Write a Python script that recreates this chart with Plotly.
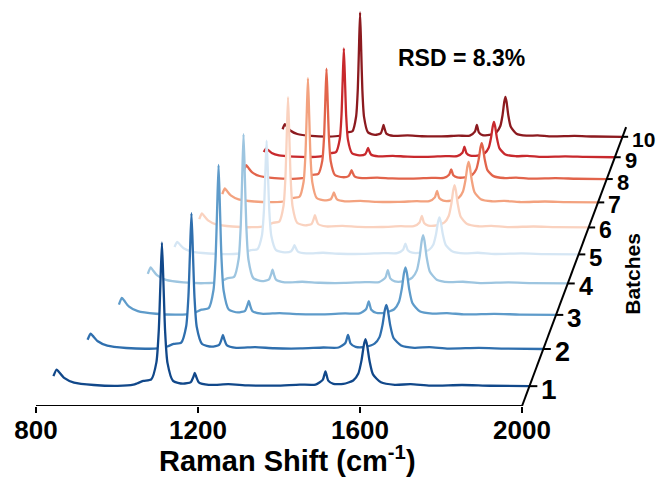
import plotly.graph_objects as go

# Raman shift sampling points (cm-1), shared by every batch
raman_shift = [798, 806, 812, 825, 850, 900, 960, 1000, 1010, 1025,
               1045, 1058, 1064, 1068, 1072, 1076, 1080, 1086, 1100, 1125,
               1145, 1151, 1155, 1159, 1165, 1190, 1240, 1290, 1360, 1420,
               1460, 1478, 1485, 1492, 1505, 1530, 1555, 1568, 1576, 1582,
               1586, 1590, 1596, 1605, 1625, 1660, 1700, 1750, 1830, 1900,
               2000]

# SERS intensity (a.u.) of each batch at the points above
batch_1 = [10.2, 17.0, 14.5, 8.5, 3.7, 1.2, 0.3, 1.5, 3.0, 5.4,
           6.9, 24.3, 56.9, 102.9, 147.0, 102.9, 56.4, 23.8, 5.4, 2.5,
           4.2, 9.1, 13.5, 9.1, 3.9, 1.3, 2.0, 0.8, 0.6, 1.6,
           1.6, 6.4, 15.0, 5.7, 2.3, 2.3, 5.8, 13.0, 26.4, 42.2,
           48.0, 42.2, 26.4, 12.0, 3.9, 1.4, 2.0, 0.5, 1.2, 0.4, 0.0]
batch_2 = [9.9, 16.5, 14.0, 8.3, 3.6, 1.1, 0.3, 1.5, 3.0, 5.4,
           6.8, 24.0, 56.1, 101.5, 145.0, 101.5, 55.6, 23.5, 5.4, 2.5,
           4.5, 10.0, 15.0, 10.0, 4.2, 1.3, 2.0, 0.8, 0.6, 1.6,
           1.6, 6.4, 15.0, 5.7, 2.2, 2.2, 5.7, 12.7, 25.9, 41.4,
           47.0, 41.4, 25.9, 11.8, 3.8, 1.3, 2.0, 0.5, 1.2, 0.4, 0.0]
batch_3 = [11.4, 19.0, 16.2, 9.5, 4.2, 1.3, 0.3, 1.5, 3.0, 5.8,
           7.5, 27.4, 64.5, 116.9, 167.0, 116.9, 64.0, 26.9, 6.0, 2.7,
           4.6, 10.3, 15.5, 10.3, 4.3, 1.3, 2.0, 0.8, 0.6, 1.6,
           1.6, 6.5, 15.0, 5.7, 2.4, 2.5, 6.3, 14.3, 29.2, 46.6,
           53.0, 46.6, 29.2, 13.3, 4.2, 1.5, 2.0, 0.5, 1.2, 0.4, 0.0]
batch_4 = [11.1, 18.5, 15.7, 9.3, 4.1, 1.2, 0.3, 1.5, 3.0, 6.0,
           7.7, 28.3, 66.7, 121.1, 173.0, 121.1, 66.2, 27.8, 6.2, 2.7,
           4.7, 10.6, 16.0, 10.6, 4.4, 1.3, 2.0, 0.8, 0.6, 1.6,
           1.6, 6.7, 15.5, 5.9, 2.4, 2.6, 6.7, 15.1, 30.8, 49.3,
           56.0, 49.3, 30.8, 14.0, 4.4, 1.5, 2.0, 0.5, 1.2, 0.4, 0.0]
batch_5 = [9.0, 15.0, 12.8, 7.5, 3.3, 1.1, 0.3, 1.5, 3.0, 5.2,
           6.5, 22.7, 53.1, 95.9, 137.0, 95.9, 52.6, 22.2, 5.1, 2.4,
           3.7, 7.6, 11.0, 7.6, 3.4, 1.2, 2.0, 0.8, 0.6, 1.6,
           1.5, 5.7, 13.0, 5.0, 2.1, 2.1, 5.4, 12.0, 24.5, 39.2,
           44.5, 39.2, 24.5, 11.1, 3.6, 1.3, 2.0, 0.5, 1.2, 0.4, 0.0]
batch_6 = [10.5, 17.5, 14.9, 8.8, 3.9, 1.2, 0.3, 1.5, 3.0, 5.8,
           7.4, 26.8, 62.9, 114.1, 163.0, 114.1, 62.4, 26.3, 5.9, 2.6,
           4.6, 10.3, 15.5, 10.3, 4.3, 1.3, 2.0, 0.8, 0.6, 1.6,
           1.6, 6.3, 14.5, 5.5, 2.4, 2.5, 6.3, 14.3, 29.2, 46.6,
           53.0, 46.6, 29.2, 13.3, 4.2, 1.5, 2.0, 0.5, 1.2, 0.4, 0.0]
batch_7 = [10.8, 18.0, 15.3, 9.0, 4.0, 1.2, 0.3, 1.5, 3.0, 5.7,
           7.3, 26.5, 62.2, 112.7, 161.0, 112.7, 61.7, 26.0, 5.8, 2.6,
           4.1, 8.8, 13.0, 8.8, 3.8, 1.3, 2.0, 0.8, 0.6, 1.6,
           1.6, 6.5, 15.0, 5.7, 2.3, 2.4, 6.3, 14.2, 28.9, 46.2,
           52.5, 46.2, 28.9, 13.1, 4.2, 1.5, 2.0, 0.5, 1.2, 0.4, 0.0]
batch_8 = [11.1, 18.5, 15.7, 9.3, 4.1, 1.2, 0.3, 1.5, 3.0, 5.5,
           6.9, 24.4, 57.2, 103.6, 148.0, 103.6, 56.7, 23.9, 5.4, 2.5,
           3.9, 8.2, 12.0, 8.2, 3.6, 1.2, 2.0, 0.8, 0.6, 1.6,
           1.5, 5.7, 13.0, 5.0, 2.2, 2.3, 5.8, 13.0, 26.4, 42.2,
           48.0, 42.2, 26.4, 12.0, 3.9, 1.4, 2.0, 0.5, 1.2, 0.4, 0.0]
batch_9 = [7.2, 12.0, 10.2, 6.0, 2.6, 0.9, 0.3, 1.5, 3.0, 5.5,
           7.0, 24.9, 58.4, 105.7, 151.0, 105.7, 57.9, 24.4, 5.5, 2.5,
           4.1, 8.8, 13.0, 8.8, 3.8, 1.3, 2.0, 0.8, 0.6, 1.6,
           1.6, 6.2, 14.5, 5.5, 2.3, 2.3, 5.9, 13.2, 27.0, 43.1,
           49.0, 43.1, 27.0, 12.3, 3.9, 1.4, 2.0, 0.5, 1.2, 0.4, 0.0]
batch_10 = [10.8, 18.0, 15.3, 9.0, 4.0, 1.2, 0.3, 1.5, 3.0, 6.1,
            7.9, 29.1, 68.6, 124.6, 178.0, 124.6, 68.1, 28.6, 6.3, 2.8,
            4.9, 11.2, 17.0, 11.2, 4.6, 1.3, 2.0, 0.8, 0.6, 1.6,
            1.7, 7.3, 17.0, 6.4, 2.5, 2.6, 6.8, 15.4, 31.4, 50.2,
            57.0, 50.2, 31.4, 14.3, 4.5, 1.6, 2.0, 0.5, 1.2, 0.4, 0.0]

spectra = [batch_1, batch_2, batch_3, batch_4, batch_5,
           batch_6, batch_7, batch_8, batch_9, batch_10]
batch_labels = ["1", "2", "3", "4", "5", "6", "7", "8", "9", "10"]
x_ticks = [800, 1200, 1600, 2000]

colors = ["#11488a", "#2f6fae", "#5e9bca", "#9dc5e0", "#d5e6f4",
          "#fad2bf", "#f3a27f", "#e2644b", "#c8292d", "#8c1a1f"]

# perspective waterfall: batches sit along a depth axis and shrink
# toward a common vanishing point (x in cm-1, y in intensity units)
VANISH_X, VANISH_Y = 2822.0, 892.0
DEPTH_STEP = 0.0455
DEPTH_MIN, DEPTH_MAX = 0.5, 10.5
TICK_LEN = 20.0
FONT = "Liberation Sans, Arial"


def depth(pos):
    return (pos - DEPTH_MIN) * DEPTH_STEP


def project(nu, inten, z):
    k = 1.0 / (1.0 + z)
    return VANISH_X + (nu - VANISH_X) * k, VANISH_Y + (inten - VANISH_Y) * k


fig = go.Figure()

# back batches first so the front ones mask what lies behind them
for idx in range(len(spectra) - 1, -1, -1):
    z = depth(idx + 1)
    pts = [project(n, v, z) for n, v in zip(raman_shift, spectra[idx])]
    base = [project(n, 0.0, z) for n in raman_shift]
    xs = [p[0] for p in pts]
    ys = [p[1] for p in pts]
    fig.add_trace(go.Scatter(
        x=xs + [p[0] for p in reversed(base)],
        y=ys + [p[1] for p in reversed(base)],
        mode="lines", fill="toself", fillcolor="white",
        line=dict(width=0, shape="spline", smoothing=0.6),
        hoverinfo="skip", showlegend=False))
    fig.add_trace(go.Scatter(
        x=xs, y=ys, mode="lines", name="Batch " + batch_labels[idx],
        line=dict(color=colors[idx], width=2.3, shape="spline", smoothing=0.6),
        showlegend=False))

# depth (batch) axis along the right edge of the floor
ax0 = project(2000, 0.0, depth(DEPTH_MIN))
ax1 = project(2000, 0.0, depth(DEPTH_MAX))
fig.add_trace(go.Scatter(x=[ax0[0], ax1[0]], y=[ax0[1], ax1[1]], mode="lines",
                         line=dict(color="black", width=2),
                         hoverinfo="skip", showlegend=False))
tx, ty = [], []
annotations = []
for i, lab in enumerate(batch_labels):
    z = depth(i + 1)
    p0 = project(2000, 0.0, z)
    p1 = project(2000 + TICK_LEN, 0.0, z)
    tx += [p0[0], p1[0], None]
    ty += [p0[1], p1[1], None]
    annotations.append(dict(
        x=p1[0], y=p1[1], text=lab, showarrow=False, xanchor="left",
        yanchor="middle", xshift=2, yshift=-3,
        font=dict(family=FONT, size=round(28 * (1 + z) ** -0.8),
                  color="black", weight="bold")))
fig.add_trace(go.Scatter(x=tx, y=ty, mode="lines",
                         line=dict(color="black", width=2),
                         hoverinfo="skip", showlegend=False))

annotations += [
    dict(x=2271, y=132, text="Batches", textangle=-90, showarrow=False,
         font=dict(family=FONT, size=21, color="black", weight="bold")),
    dict(x=1420, xref="x", y=-0.131, yref="paper", yanchor="middle",
         text="Raman Shift (cm<sup>-1</sup>)", showarrow=False,
         font=dict(family=FONT, size=29, color="black", weight="bold")),
    dict(x=1851, y=348, text="RSD = 8.3%", showarrow=False,
         font=dict(family=FONT, size=23, color="black", weight="bold")),
]

fig.update_layout(
    width=663, height=479,
    margin=dict(l=0, r=0, t=0, b=73),
    paper_bgcolor="white", plot_bgcolor="white",
    xaxis=dict(range=[711.1, 2348.1], tickvals=x_ticks,
               ticktext=[str(t) for t in x_ticks],
               ticks="outside", ticklen=6, tickwidth=2, tickcolor="black",
               ticklabelstandoff=-5,
               showline=False, showgrid=False, zeroline=False,
               tickfont=dict(family=FONT, size=26, color="black",
                             weight="bold")),
    yaxis=dict(range=[0, 406], visible=False),
    shapes=[dict(type="line", xref="x", yref="y", x0=800, x1=2000, y0=0, y1=0,
                 line=dict(color="black", width=2))],
    annotations=annotations,
)

fig.write_html("out.html")
